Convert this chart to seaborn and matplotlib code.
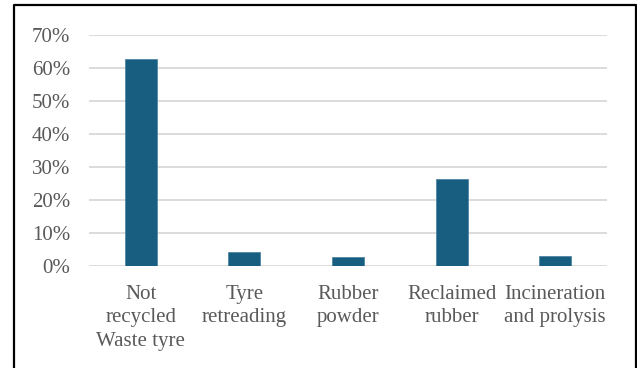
import matplotlib
matplotlib.use("Agg")
import matplotlib.pyplot as plt
from matplotlib.lines import Line2D
from matplotlib.ticker import PercentFormatter
import seaborn as sns
import pandas as pd

categories = ["Not\nrecycled\nWaste tyre", "Tyre\nretreading", "Rubber\npowder",
              "Reclaimed\nrubber", "Incineration\nand prolysis"]
shares = [0.626, 0.041, 0.026, 0.264, 0.031]
y_ticks = [0.0, 0.1, 0.2, 0.3, 0.4, 0.5, 0.6, 0.7]

sns.set_theme(style="white")
plt.rcParams["font.family"] = ["Liberation Serif", "DejaVu Serif"]

df = pd.DataFrame({"category": categories, "share": shares})

fig = plt.figure(figsize=(6.37, 3.68), dpi=100)
ax = fig.add_axes([89 / 637, 1 - 266 / 368, 518 / 637, 231 / 368])

sns.barplot(data=df, x="category", y="share", color="#175e80", saturation=1,
            width=0.31, edgecolor="#4f86a3", linewidth=0.6, ax=ax, zorder=3)

ax.set_ylim(0, 0.7)
ax.set_xlim(-0.5, len(categories) - 0.5)
ax.set_yticks(y_ticks)
ax.yaxis.set_major_formatter(PercentFormatter(1.0, decimals=0))
ax.grid(axis="y", color="#d9d9d9", linewidth=1.3, zorder=0)
ax.grid(axis="x", visible=False)
for s in ax.spines.values():
    s.set_visible(False)
ax.set_xlabel("")
ax.set_ylabel("")
ax.tick_params(axis="y", length=0, pad=13.5, labelsize=15, labelcolor="#595959")
ax.tick_params(axis="x", length=0, pad=13.5, labelsize=15, labelcolor="#595959")
for lbl in ax.get_xticklabels():
    lbl.set_linespacing(1.32)
    lbl.set_horizontalalignment("center")
    lbl.set_multialignment("center")

# frame around the figure (left, top, right edges)
fx0, fx1, fy1 = 14 / 637, 635.5 / 637, 1 - 5 / 368
fig.add_artist(Line2D([fx0, fx0, fx1, fx1], [0, fy1, fy1, 0],
                      color="black", linewidth=1.6, transform=fig.transFigure))

fig.savefig("out.png", dpi=100)
